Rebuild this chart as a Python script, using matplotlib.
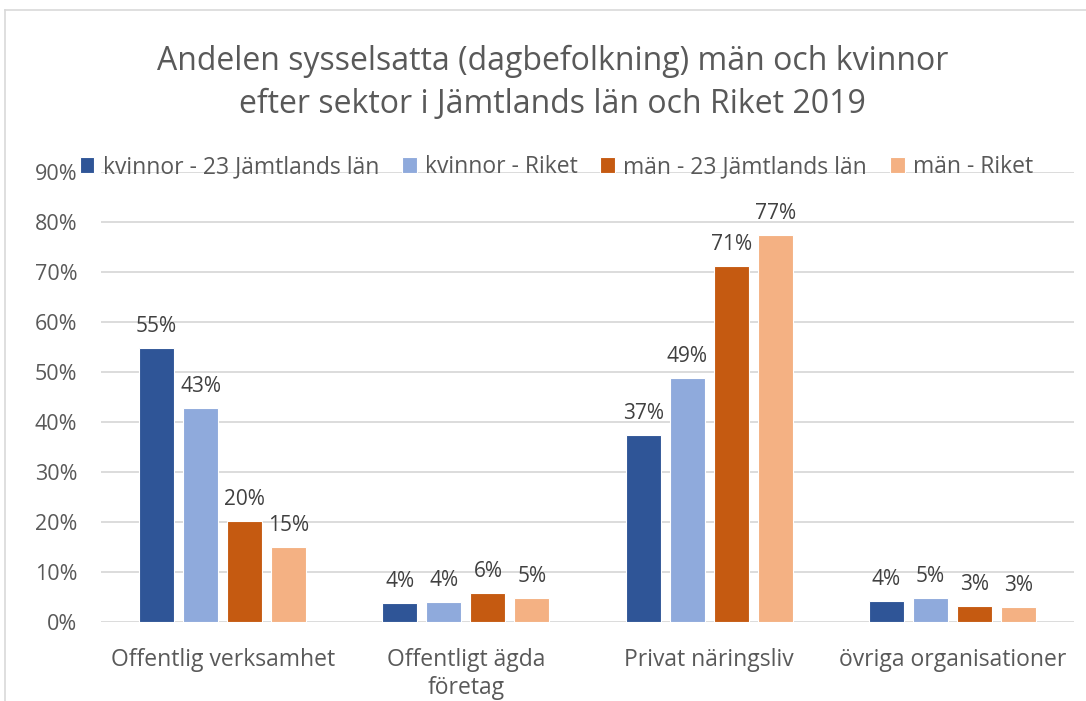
import numpy as np
import matplotlib.pyplot as plt
from matplotlib.lines import Line2D

plt.rcParams['font.family'] = ['Open Sans', 'DejaVu Sans']

categories = ["Offentlig verksamhet", "Offentligt ägda\nföretag", "Privat näringsliv", "övriga organisationer"]
series_names = ["kvinnor - 23 Jämtlands län", "kvinnor - Riket", "män - 23 Jämtlands län", "män - Riket"]
kvinnor_jamt = [0.548, 0.038, 0.374, 0.042]
kvinnor_riket = [0.428, 0.039, 0.488, 0.047]
man_jamt = [0.202, 0.058, 0.712, 0.031]
man_riket = [0.150, 0.048, 0.774, 0.029]
colors = ["#2F5597", "#8FAADC", "#C55A11", "#F4B183"]

txt = "#595959"
fig = plt.figure(figsize=(10.86, 7.01), dpi=100)
ax = fig.add_axes([0.093, 0.1127, 0.896, 0.642])

x = np.arange(len(categories))
step = 0.181
w = 0.144
for i, vals in enumerate([kvinnor_jamt, kvinnor_riket, man_jamt, man_riket]):
    pos = x + (i - 1.5) * step
    bars = ax.bar(pos, vals, w, color=colors[i], edgecolor="white", linewidth=0.8,
                  label=series_names[i], zorder=3)
    for b, v in zip(bars, vals):
        ax.annotate("{:.0f}%".format(v * 100), (b.get_x() + b.get_width() / 2, v),
                    xytext=(0, 8), textcoords="offset points", ha="center", va="bottom",
                    fontsize=15, color="#404040")

ax.set_xlim(-0.5, 3.5)
ax.set_ylim(0, 0.9)
ax.set_yticks(np.arange(0, 0.91, 0.1))
ax.set_yticklabels(["{:.0f}%".format(t * 100) for t in np.arange(0, 0.91, 0.1)])
ax.set_xticks(x)
ax.set_xticklabels(categories)
ax.tick_params(axis="both", length=0, colors=txt)
ax.tick_params(axis="y", pad=17, labelsize=15.5)
ax.tick_params(axis="x", pad=19, labelsize=16.5)
ax.grid(axis="y", color="#D9D9D9", linewidth=1.3, zorder=0)
ax.set_axisbelow(True)
for s in ax.spines.values():
    s.set_visible(False)

fig.text(0.509, 0.882, "Andelen sysselsatta (dagbefolkning) män och kvinnor\nefter sektor i Jämtlands län och Riket 2019",
         ha="center", va="center", fontsize=23, color=txt, linespacing=1.4)

leg = ax.legend(loc="center left", bbox_to_anchor=(-0.022, 1.0 + 5 / 450), ncol=4, frameon=False,
                fontsize=16.5, handlelength=0.65, handleheight=0.65, handletextpad=0.35,
                columnspacing=1.0, labelcolor=txt, borderaxespad=0, borderpad=0)

# chart border
fig.add_artist(Line2D([5 / 1086, 5 / 1086], [0, 1 - 10 / 701], transform=fig.transFigure, color="#D9D9D9", lw=1.2))
fig.add_artist(Line2D([5 / 1086, 1], [1 - 10 / 701, 1 - 10 / 701], transform=fig.transFigure, color="#D9D9D9", lw=1.2))

fig.savefig("out.png", dpi=100)
